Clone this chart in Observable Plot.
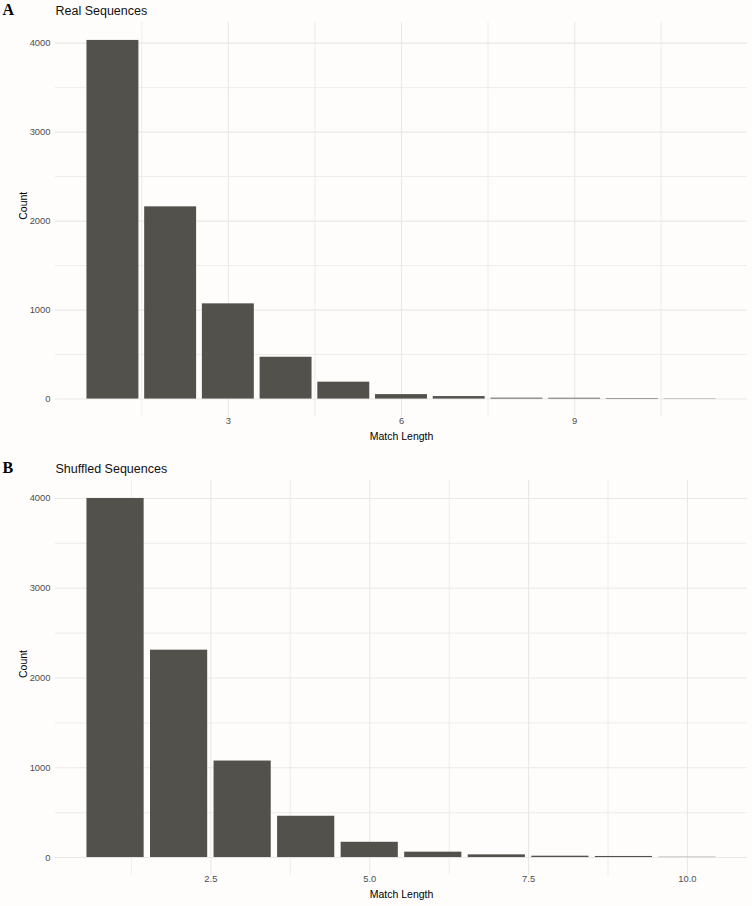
<!DOCTYPE html>
<html>
<head>
<meta charset="utf-8">
<script src="https://cdn.jsdelivr.net/npm/d3@7"></script>
<script src="https://cdn.jsdelivr.net/npm/@observablehq/plot@0.6"></script>
<style>
  html, body { margin: 0; padding: 0; background: #fefdfc; }
  #chart { width: 752px; height: 906px; }
  svg { display: block; }
</style>
</head>
<body>
<div id="chart"></div>
<script>
// Panel A: Real Sequences
const lengthsA = [1, 2, 3, 4, 5, 6, 7, 8, 9, 10, 11];
const countsA  = [4030, 2160, 1070, 470, 190, 50, 28, 10, 9, 6, 3];
const xTicksA  = [3, 6, 9];
const xMinorA  = [1.5, 4.5, 7.5, 10.5];

// Panel B: Shuffled Sequences
const lengthsB = [1, 2, 3, 4, 5, 6, 7, 8, 9, 10];
const countsB  = [4000, 2310, 1075, 460, 170, 60, 30, 15, 12, 3];
const xTicksB  = [2.5, 5.0, 7.5, 10.0];
const xMinorB  = [1.25, 3.75, 6.25, 8.75];

const yTicks = [0, 1000, 2000, 3000, 4000];
const yMinor = [500, 1500, 2500, 3500];

const panelLabels = ["A", "B"];
const titles = ["Real Sequences", "Shuffled Sequences"];
const xTitle = "Match Length";
const yTitle = "Count";

const barFill = "#53514c";
const gridColor = "#ebe7e7";
const sans = "'Liberation Sans', Arial, Helvetica, sans-serif";

function panel({lengths, counts, xTicks, xMinor, xFmt, label, title, height, marginBottom}) {
  const n = lengths.length;
  const xlo = 0.55, xhi = n + 0.45;
  const xpad = (xhi - xlo) * 0.05;
  const ymax = d3.max(counts);
  const ypad = ymax * 0.05;
  const data = lengths.map((len, i) => ({len, count: counts[i]}));
  return Plot.plot({
    width: 752,
    height,
    marginTop: 22,
    marginBottom,
    marginLeft: 55,
    marginRight: 5,
    style: {background: "transparent", color: "#4d4d4d", fontFamily: sans, fontSize: "9.4px"},
    x: {domain: [xlo - xpad, xhi + xpad], ticks: xTicks, tickFormat: xFmt, tickSize: 0, tickPadding: 0, label: null},
    y: {domain: [-ypad, ymax + ypad], ticks: yTicks, tickFormat: d3.format("d"), tickSize: 0, tickPadding: 5, label: null},
    marks: [
      Plot.ruleY(yMinor, {stroke: gridColor, strokeWidth: 0.8}),
      Plot.ruleX(xMinor, {stroke: gridColor, strokeWidth: 0.8}),
      Plot.ruleY(yTicks, {stroke: gridColor, strokeWidth: 1.1}),
      Plot.ruleX(xTicks, {stroke: gridColor, strokeWidth: 1.1}),
      Plot.rect(data, {x1: d => d.len - 0.45, x2: d => d.len + 0.45, y1: d => 0, y2: d => d.count, fill: barFill}),
      Plot.text([title], {frameAnchor: "top-left", lineAnchor: "middle", dy: -12, dx: 0, textAnchor: "start", fill: "#111", fontSize: 12.5, fontFamily: sans}),
      Plot.text([label], {frameAnchor: "top-left", lineAnchor: "middle", dy: -12.5, dx: -53, textAnchor: "start", fill: "#000", fontSize: 16, fontWeight: "bold", fontFamily: "'Liberation Serif', 'Times New Roman', serif"}),
      Plot.text([xTitle], {frameAnchor: "bottom", lineAnchor: "middle", dy: 19.5, fill: "#000", fontSize: 10.5, fontFamily: sans}),
      Plot.text([yTitle], {frameAnchor: "left", dx: -32, rotate: -90, fill: "#000", fontSize: 10.5, fontFamily: sans})
    ]
  });
}

const chart = document.getElementById("chart");
chart.append(panel({
  lengths: lengthsA, counts: countsA, xTicks: xTicksA, xMinor: xMinorA,
  xFmt: d3.format("d"), label: panelLabels[0], title: titles[0],
  height: 458, marginBottom: 41.5
}));
chart.append(panel({
  lengths: lengthsB, counts: countsB, xTicks: xTicksB, xMinor: xMinorB,
  xFmt: d3.format(".1f"), label: panelLabels[1], title: titles[1],
  height: 448, marginBottom: 31
}));
</script>
</body>
</html>
